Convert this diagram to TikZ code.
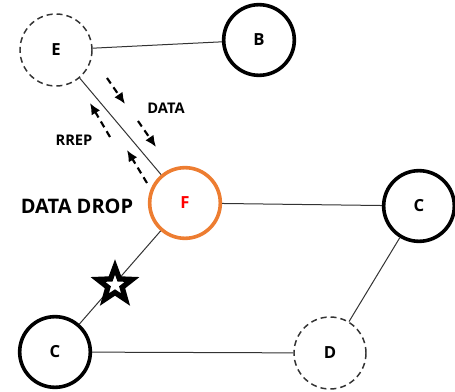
\documentclass[tikz,border=0pt]{standalone}
\usepackage{fontspec}
\setmainfont{Open Sans}
\usetikzlibrary{arrows.meta,shapes.geometric}
\definecolor{droporange}{HTML}{ED7D31}
\definecolor{dropred}{HTML}{FF0000}
\begin{document}
\begin{tikzpicture}[x=0.75pt,y=-0.75pt,
  station/.style={circle,draw=black,line width=2.7pt,minimum size=53pt,inner sep=0pt,
    font=\bfseries\fontsize{12.5}{14}\selectfont},
  ghost/.style={circle,draw=black!80,line width=1.1pt,dash pattern=on 4.5pt off 3pt,
    minimum size=54pt,inner sep=0pt,font=\bfseries\fontsize{12.5}{14}\selectfont},
  failing/.style={station,draw=droporange,text=dropred},
  link/.style={draw=black!80,line width=0.75pt},
  flow/.style={line width=1.6pt,dash pattern=on 5pt off 3.5pt,-{Latex[length=8.5pt,width=7.5pt]}},
  tag/.style={font=\bfseries\fontsize{11}{13}\selectfont}]
\useasboundingbox (0,0) rectangle (455,392);
% network nodes
\node[ghost]   (E)  at (56,50)   {E};
\node[station] (B)  at (259,40)  {B};
\node[failing] (F)  at (185,203) {F};
\node[station] (C1) at (419,206) {C};
\node[station] (C2) at (55,352)  {C};
\node[ghost]   (D)  at (330,353) {D};
% links
\draw[link] (E) -- (B);
\draw[link] (E) -- (F);
\draw[link] (F) -- (C1);
\draw[link] (C1) -- (D);
\draw[link] (F) -- (C2);
\draw[link] (C2) -- (D);
% broken link marker
\node[star,star points=5,star point ratio=2.4,minimum size=27pt,inner sep=0pt,
  draw=black,fill=white,line width=4pt] (brk) at (115,285) {};
% route traffic along E--F
\coordinate (d1s) at (107,78);  \coordinate (d1e) at (125,104);
\coordinate (d2s) at (138,121); \coordinate (d2e) at (156,147);
\coordinate (r1s) at (110,137); \coordinate (r1e) at (90,103);
\coordinate (r2s) at (147,183); \coordinate (r2e) at (127,150);
\draw[flow] (d1s) -- (d1e);
\draw[flow] (d2s) -- (d2e);
\draw[flow] (r1s) -- (r1e);
\draw[flow] (r2s) -- (r2e);
\node[tag] (data) at (166,108) {DATA};
\node[tag] (rrep) at (74,140) {RREP};
\node[font=\bfseries\fontsize{15}{17}\selectfont] (drop) at (77,206) {DATA DROP};
\end{tikzpicture}
\end{document}
